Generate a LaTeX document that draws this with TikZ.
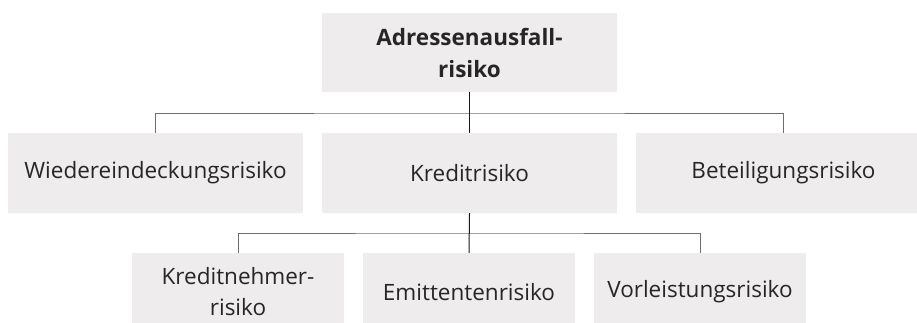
\documentclass[tikz,border=0pt]{standalone}
\usepackage{fontspec}
\setmainfont{Open Sans}
\definecolor{boxfill}{HTML}{EEECED}
\definecolor{hline}{HTML}{6E6E6E}
\begin{document}
\begin{tikzpicture}[x=1pt,y=-1pt,
  box/.style={fill=boxfill, draw=none, inner sep=0pt, align=center, font=\fontsize{22.5}{31}\selectfont, text=black!85},
  conn/.style={draw=hline, line width=1pt},
  main/.style={draw=black!90, line width=1pt}]
\useasboundingbox (0,0) rectangle (917,322);
\clip (0,0) rectangle (917,322);
\node[box, minimum width=295pt, minimum height=79pt, font=\fontsize{22.5}{32}\selectfont\bfseries] (top) at (469.5,52.5) {Adressenausfall-\\risiko};
\node[box, minimum width=295pt, minimum height=80pt] (w) at (155.5,173) {Wiedereindeckungsrisiko};
\node[box, minimum width=295pt, minimum height=80pt] (k) at (469.5,173) {Kreditrisiko};
\node[box, minimum width=295pt, minimum height=80pt] (b) at (783.5,173) {Beteiligungsrisiko};
\node[box, minimum width=212pt, minimum height=78pt] (kn) at (238,292) {Kreditnehmer-\\risiko};
\node[box, minimum width=212pt, minimum height=78pt] (e) at (469,292) {Emittentenrisiko};
\node[box, minimum width=212pt, minimum height=78pt] (v) at (700,292) {Vorleistungsrisiko};
\coordinate (j1) at (469.5,113);
\coordinate (j2) at (469.5,233);
\draw[conn] (w.north) |- (j1) -| (b.north);
\draw[main] (top.south) -- (k.north);
\draw[conn] (kn.north) |- (j2) -| (v.north);
\draw[main] (k.south) -- (e.north);
\end{tikzpicture}
\end{document}
